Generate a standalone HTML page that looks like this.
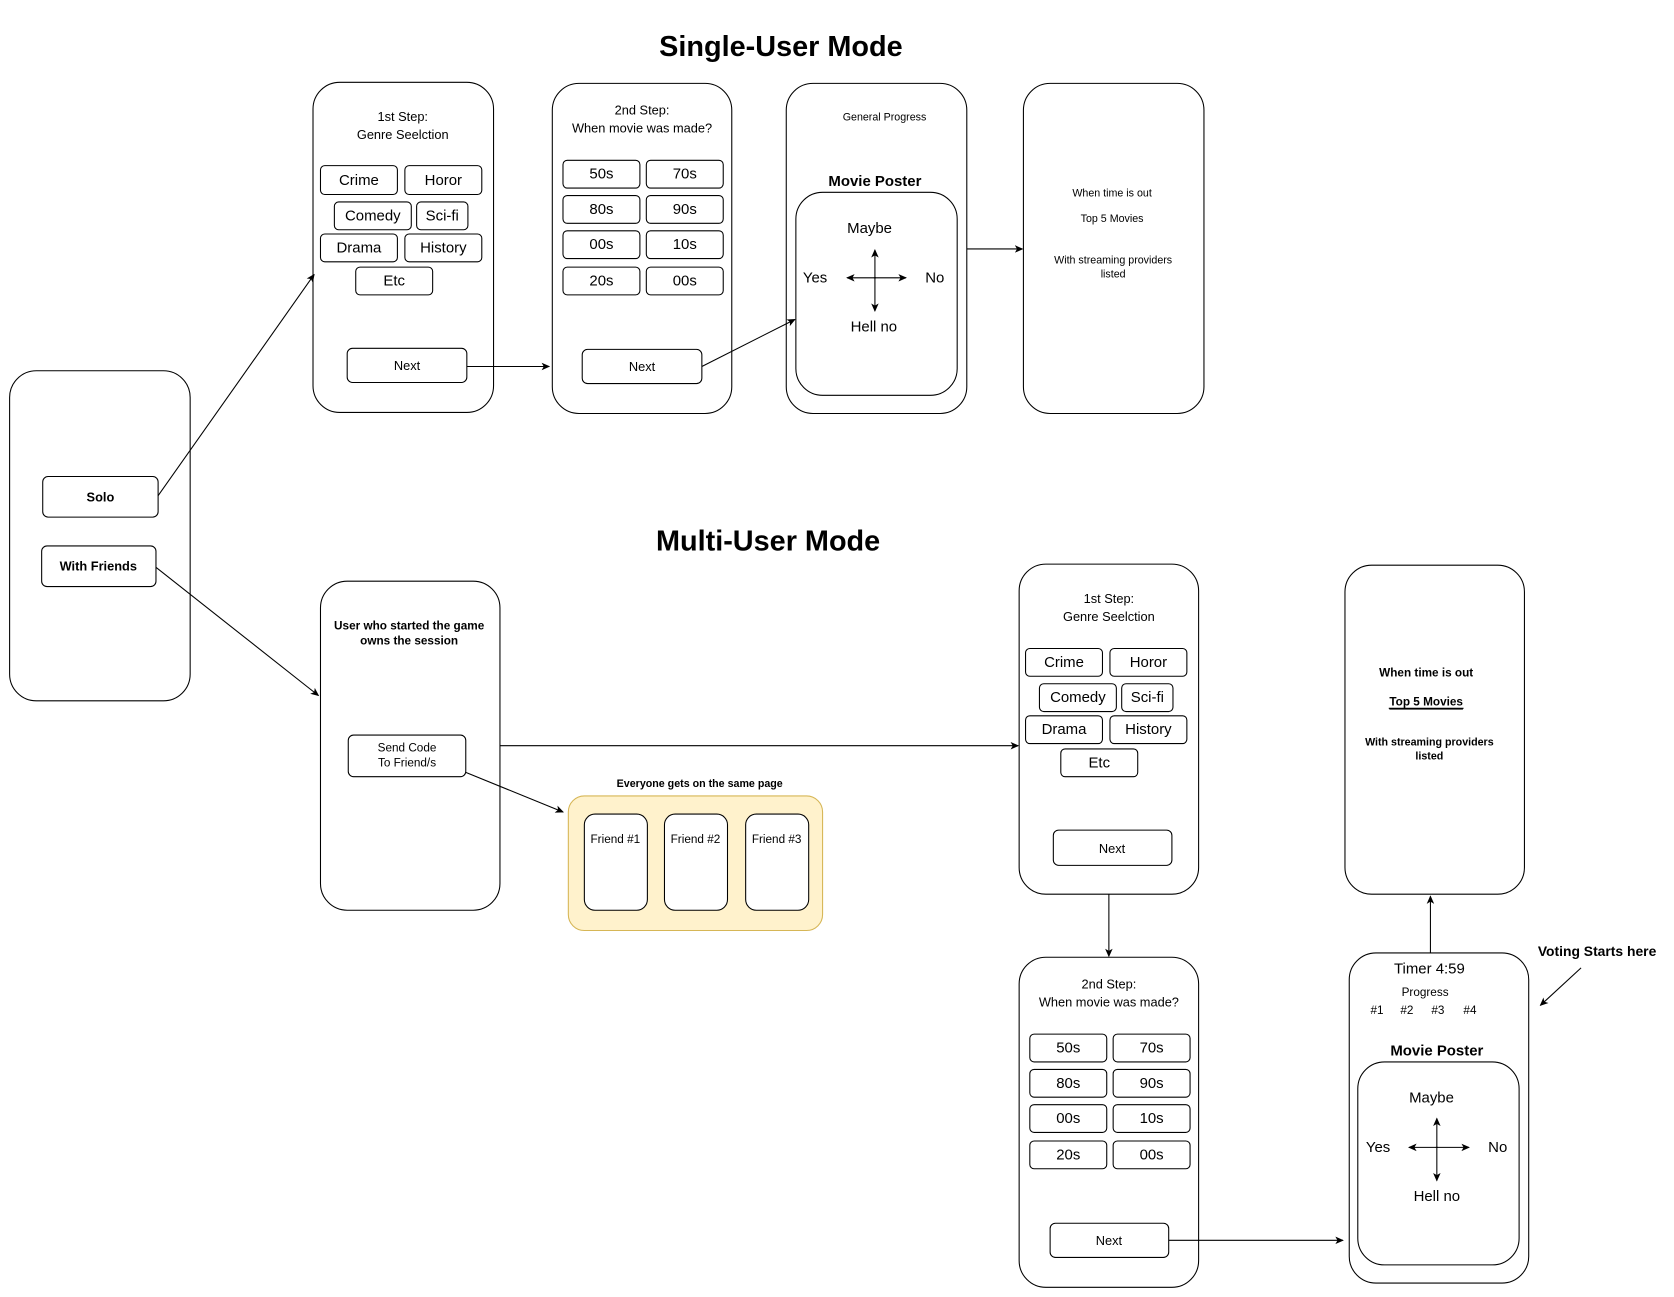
<!DOCTYPE html>
<html><head><meta charset="utf-8"><style>
html,body{margin:0;padding:0;background:#fff}
svg{display:block}
text{font-family:"Liberation Sans",Arial,sans-serif;fill:#000;dominant-baseline:central;text-anchor:middle}
.b{font-weight:bold}
rect{fill:#fff;stroke:#000;stroke-width:1}
line{stroke:#000;stroke-width:1}
</style></head><body>
<svg width="1674" height="1297" viewBox="0 0 1567 1214" xmlns="http://www.w3.org/2000/svg">
<defs><marker id="a" markerWidth="8" markerHeight="8" refX="7" refY="4" orient="auto" markerUnits="userSpaceOnUse"><path d="M0,0.5 L8,4 L0,7.5 L2,4 Z" fill="#000"/></marker></defs>

<text x="731" y="44" class="b" font-size="27">Single-User Mode</text>
<text x="719" y="507" class="b" font-size="27">Multi-User Mode</text>

<!-- left -->
<rect x="9" y="347" width="169" height="309" rx="25"/>
<rect x="40" y="446" width="108" height="38" rx="5"/><text x="94" y="465" class="b" font-size="12">Solo</text>
<rect x="39" y="511" width="107" height="38" rx="5"/><text x="92" y="530" class="b" font-size="12">With Friends</text>

<!-- box A -->
<rect x="293" y="77" width="169" height="309" rx="25"/>
<text x="377" y="109" font-size="12">1st Step:</text><text x="377" y="126" font-size="12">Genre Seelction</text>
<g font-size="14">
<rect x="300" y="155" width="72" height="27" rx="4"/><text x="336" y="169" font-size="14">Crime</text>
<rect x="379" y="155" width="72" height="27" rx="4"/><text x="415" y="169" font-size="14">Horor</text>
<rect x="313" y="189" width="72" height="26" rx="4"/><text x="349" y="202" font-size="14">Comedy</text>
<rect x="390" y="189" width="48" height="26" rx="4"/><text x="414" y="202" font-size="14">Sci-fi</text>
<rect x="300" y="219" width="72" height="26" rx="4"/><text x="336" y="232" font-size="14">Drama</text>
<rect x="379" y="219" width="72" height="26" rx="4"/><text x="415" y="232" font-size="14">History</text>
<rect x="333" y="250" width="72" height="26" rx="4"/><text x="369" y="263" font-size="14">Etc</text>
</g>
<rect x="325" y="326" width="112" height="32" rx="5"/><text x="381" y="342" font-size="12">Next</text>

<!-- box B -->
<rect x="517" y="78" width="168" height="309" rx="25"/>
<text x="601" y="103" font-size="12">2nd Step:</text><text x="601" y="120" font-size="12">When movie was made?</text>
<rect x="527" y="150" width="72" height="26" rx="4"/><text x="563" y="163" font-size="14">50s</text>
<rect x="605" y="150" width="72" height="26" rx="4"/><text x="641" y="163" font-size="14">70s</text>
<rect x="527" y="183" width="72" height="26" rx="4"/><text x="563" y="196" font-size="14">80s</text>
<rect x="605" y="183" width="72" height="26" rx="4"/><text x="641" y="196" font-size="14">90s</text>
<rect x="527" y="216" width="72" height="26" rx="4"/><text x="563" y="229" font-size="14">00s</text>
<rect x="605" y="216" width="72" height="26" rx="4"/><text x="641" y="229" font-size="14">10s</text>
<rect x="527" y="250" width="72" height="26" rx="4"/><text x="563" y="263" font-size="14">20s</text>
<rect x="605" y="250" width="72" height="26" rx="4"/><text x="641" y="263" font-size="14">00s</text>
<rect x="545" y="327" width="112" height="32" rx="5"/><text x="601" y="343" font-size="12">Next</text>

<!-- box C -->
<rect x="736" y="78" width="169" height="309" rx="25"/>
<text x="828" y="110" font-size="10">General Progress</text>
<text x="819" y="170" class="b" font-size="14">Movie Poster</text>
<rect x="745" y="180" width="151" height="190" rx="25"/>
<text x="814" y="214" font-size="14">Maybe</text><text x="763" y="260" font-size="14">Yes</text>
<text x="875" y="260" font-size="14">No</text><text x="818" y="306" font-size="14">Hell no</text>
<line x1="819" y1="260" x2="819" y2="234" marker-end="url(#a)"/><line x1="819" y1="260" x2="819" y2="291" marker-end="url(#a)"/>
<line x1="820" y1="260" x2="793" y2="260" marker-end="url(#a)"/><line x1="818" y1="260" x2="848" y2="260" marker-end="url(#a)"/>

<!-- box D -->
<rect x="958" y="78" width="169" height="309" rx="25"/>
<text x="1041" y="181" font-size="10">When time is out</text>
<text x="1041" y="205" font-size="10">Top 5 Movies</text>
<text x="1042" y="244" font-size="10">With streaming providers</text>
<text x="1042" y="257" font-size="10">listed</text>

<!-- single arrows -->
<line x1="148" y1="464" x2="294" y2="257" marker-end="url(#a)"/>
<line x1="437" y1="343" x2="514" y2="343" marker-end="url(#a)"/>
<line x1="657" y1="343" x2="744" y2="299" marker-end="url(#a)"/>
<line x1="905" y1="233" x2="957" y2="233" marker-end="url(#a)"/>
<line x1="146" y1="531" x2="298" y2="651" marker-end="url(#a)"/>

<!-- box E -->
<rect x="300" y="544" width="168" height="308" rx="25"/>
<text x="383" y="586" class="b" font-size="11">User who started the game</text>
<text x="383" y="600" class="b" font-size="11">owns the session</text>
<rect x="326" y="688" width="110" height="39" rx="5"/>
<text x="381" y="700" font-size="11">Send Code</text><text x="381" y="714" font-size="11">To Friend/s</text>
<line x1="468" y1="698" x2="953" y2="698" marker-end="url(#a)"/>
<line x1="436" y1="723" x2="527" y2="760" marker-end="url(#a)"/>

<text x="655" y="734" class="b" font-size="10">Everyone gets on the same page</text>
<rect x="532" y="745" width="238" height="126" rx="15" style="fill:#fff2cc;stroke:#d6b656"/>
<rect x="547" y="762" width="59" height="90" rx="10"/><text x="576" y="786" font-size="11">Friend #1</text>
<rect x="622" y="762" width="59" height="90" rx="10"/><text x="651" y="786" font-size="11">Friend #2</text>
<rect x="698" y="762" width="59" height="90" rx="10"/><text x="727" y="786" font-size="11">Friend #3</text>

<!-- box F -->
<rect x="954" y="528" width="168" height="309" rx="25"/>
<text x="1038" y="560" font-size="12">1st Step:</text><text x="1038" y="577" font-size="12">Genre Seelction</text>
<rect x="960" y="607" width="72" height="26" rx="4"/><text x="996" y="620" font-size="14">Crime</text>
<rect x="1039" y="607" width="72" height="26" rx="4"/><text x="1075" y="620" font-size="14">Horor</text>
<rect x="973" y="640" width="72" height="26" rx="4"/><text x="1009" y="653" font-size="14">Comedy</text>
<rect x="1050" y="640" width="48" height="26" rx="4"/><text x="1074" y="653" font-size="14">Sci-fi</text>
<rect x="960" y="670" width="72" height="26" rx="4"/><text x="996" y="683" font-size="14">Drama</text>
<rect x="1039" y="670" width="72" height="26" rx="4"/><text x="1075" y="683" font-size="14">History</text>
<rect x="993" y="701" width="72" height="26" rx="4"/><text x="1029" y="714" font-size="14">Etc</text>
<rect x="986" y="777" width="111" height="33" rx="5"/><text x="1041" y="794" font-size="12">Next</text>
<line x1="1038" y1="837" x2="1038" y2="895" marker-end="url(#a)"/>

<!-- box G -->
<rect x="954" y="896" width="168" height="309" rx="25"/>
<text x="1038" y="921" font-size="12">2nd Step:</text><text x="1038" y="938" font-size="12">When movie was made?</text>
<rect x="964" y="968" width="72" height="26" rx="4"/><text x="1000" y="981" font-size="14">50s</text>
<rect x="1042" y="968" width="72" height="26" rx="4"/><text x="1078" y="981" font-size="14">70s</text>
<rect x="964" y="1001" width="72" height="26" rx="4"/><text x="1000" y="1014" font-size="14">80s</text>
<rect x="1042" y="1001" width="72" height="26" rx="4"/><text x="1078" y="1014" font-size="14">90s</text>
<rect x="964" y="1034" width="72" height="26" rx="4"/><text x="1000" y="1047" font-size="14">00s</text>
<rect x="1042" y="1034" width="72" height="26" rx="4"/><text x="1078" y="1047" font-size="14">10s</text>
<rect x="964" y="1068" width="72" height="26" rx="4"/><text x="1000" y="1081" font-size="14">20s</text>
<rect x="1042" y="1068" width="72" height="26" rx="4"/><text x="1078" y="1081" font-size="14">00s</text>
<rect x="983" y="1145" width="111" height="32" rx="5"/><text x="1038" y="1161" font-size="12">Next</text>
<line x1="1094" y1="1161" x2="1257" y2="1161" marker-end="url(#a)"/>

<!-- box H -->
<rect x="1259" y="529" width="168" height="308" rx="25"/>
<text x="1335" y="630" class="b" font-size="11">When time is out</text>
<text x="1335" y="657" class="b" font-size="11" text-decoration="underline">Top 5 Movies</text>
<line x1="1300" y1="663" x2="1370" y2="663"/>
<text x="1338" y="695" class="b" font-size="10">With streaming providers</text>
<text x="1338" y="708" class="b" font-size="10">listed</text>

<!-- box I -->
<rect x="1263" y="892" width="168" height="309" rx="25"/>
<text x="1338" y="907" font-size="14">Timer 4:59</text>
<text x="1334" y="929" font-size="11">Progress</text>
<text x="1289" y="946" font-size="11">#1</text><text x="1317" y="946" font-size="11">#2</text>
<text x="1346" y="946" font-size="11">#3</text><text x="1376" y="946" font-size="11">#4</text>
<text x="1345" y="984" class="b" font-size="14">Movie Poster</text>
<rect x="1271" y="994" width="151" height="190" rx="25"/>
<text x="1340" y="1028" font-size="14">Maybe</text><text x="1290" y="1074" font-size="14">Yes</text>
<text x="1402" y="1074" font-size="14">No</text><text x="1345" y="1120" font-size="14">Hell no</text>
<line x1="1345" y1="1074" x2="1345" y2="1047" marker-end="url(#a)"/><line x1="1345" y1="1074" x2="1345" y2="1105" marker-end="url(#a)"/>
<line x1="1346" y1="1074" x2="1319" y2="1074" marker-end="url(#a)"/><line x1="1344" y1="1074" x2="1375" y2="1074" marker-end="url(#a)"/>
<line x1="1339" y1="892" x2="1339" y2="839" marker-end="url(#a)"/>

<text x="1495" y="890" class="b" font-size="13">Voting Starts here</text>
<line x1="1480" y1="906" x2="1442" y2="941" marker-end="url(#a)"/>
</svg>
</body></html>
